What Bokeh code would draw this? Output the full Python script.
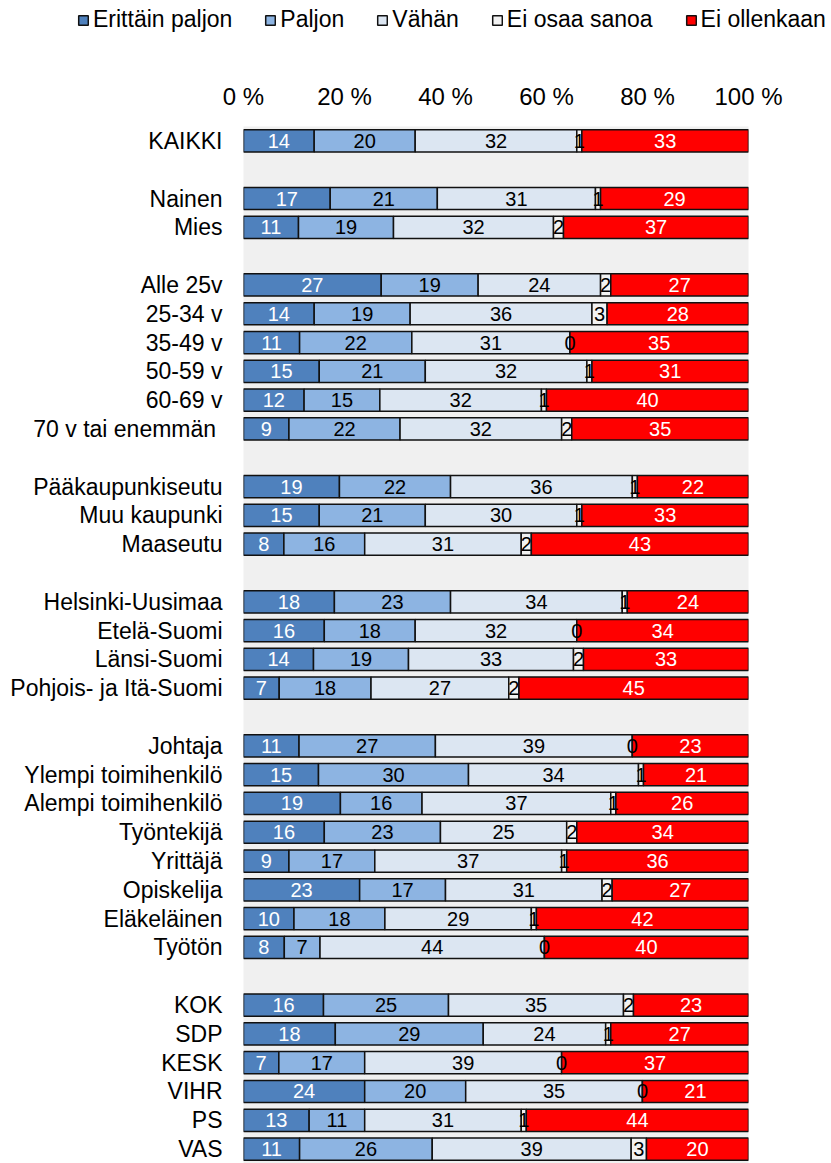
import numpy as np
from bokeh.plotting import figure
from bokeh.layouts import column
from bokeh.models import (ColumnDataSource, FixedTicker, Range1d, Legend,
                          LegendItem)
from bokeh.core.properties import value
from bokeh.embed import file_html
from bokeh.resources import INLINE

series = ["Erittäin paljon", "Paljon", "Vähän", "Ei osaa sanoa", "Ei ollenkaan"]
colors = ["#4F81BD", "#8DB4E2", "#DCE6F2", "#F2F2F2", "#FF0000"]
label_colors = ["#FFFFFF", "#000000", "#000000", "#000000", "#FFFFFF"]

groups = [
    ["KAIKKI"],
    ["Nainen", "Mies"],
    ["Alle 25v", "25-34 v", "35-49 v", "50-59 v", "60-69 v", "70 v  tai enemmän"],
    ["Pääkaupunkiseutu", "Muu kaupunki", "Maaseutu"],
    ["Helsinki-Uusimaa", "Etelä-Suomi", "Länsi-Suomi", "Pohjois- ja Itä-Suomi"],
    ["Johtaja", "Ylempi toimihenkilö", "Alempi toimihenkilö", "Työntekijä",
     "Yrittäjä", "Opiskelija", "Eläkeläinen", "Työtön"],
    ["KOK", "SDP", "KESK", "VIHR", "PS", "VAS"],
]

erittain_paljon = [14, 17, 11, 27, 14, 11, 15, 12, 9, 19, 15, 8, 18, 16, 14, 7,
                   11, 15, 19, 16, 9, 23, 10, 8, 16, 18, 7, 24, 13, 11]
paljon = [20, 21, 19, 19, 19, 22, 21, 15, 22, 22, 21, 16, 23, 18, 19, 18,
          27, 30, 16, 23, 17, 17, 18, 7, 25, 29, 17, 20, 11, 26]
vahan = [32, 31, 32, 24, 36, 31, 32, 32, 32, 36, 30, 31, 34, 32, 33, 27,
         39, 34, 37, 25, 37, 31, 29, 44, 35, 24, 39, 35, 31, 39]
ei_osaa_sanoa = [1, 1, 2, 2, 3, 0, 1, 1, 2, 1, 1, 2, 1, 0, 2, 2,
                 0, 1, 1, 2, 1, 2, 1, 0, 2, 1, 0, 0, 1, 3]
ei_ollenkaan = [33, 29, 37, 27, 28, 35, 31, 40, 35, 22, 33, 43, 24, 34, 33, 45,
                23, 21, 26, 34, 36, 27, 42, 40, 23, 27, 37, 21, 44, 20]

x_ticks = [0, 20, 40, 60, 80, 100]
x_tick_labels = ["0 %", "20 %", "40 %", "60 %", "80 %", "100 %"]

# row positions with a blank row between groups
categories, rows = [], []
r = 0
for g in groups:
    for c in g:
        categories.append(c)
        rows.append(r)
        r += 1
    r += 1
n_rows = r - 1

vals = np.array([erittain_paljon, paljon, vahan, ei_osaa_sanoa, ei_ollenkaan], dtype=float).T
norm = vals / vals.sum(axis=1, keepdims=True) * 100.0
right = np.cumsum(norm, axis=1)
left = right - norm

FONT = "Liberation Sans"
LEG_H = 40

# ---- main chart ----
p = figure(width=831, height=1163 - LEG_H, output_backend="svg", toolbar_location=None,
           x_range=Range1d(0, 100), y_range=Range1d(n_rows - 0.5, -0.5),
           x_axis_location="above", min_border_left=243, min_border_right=83,
           min_border_top=126 - LEG_H, min_border_bottom=0)
p.background_fill_color = "#F0F0F0"
p.border_fill_color = "#FFFFFF"
p.outline_line_color = None
p.xgrid.grid_line_color = None
p.ygrid.grid_line_color = None

# ---- legend strip (its frame spans the whole strip) ----
lp = figure(width=831, height=LEG_H, output_backend="svg", toolbar_location=None,
            x_range=Range1d(0, 100), y_range=Range1d(1000, 1001),
            x_axis_location=None, y_axis_location=None,
            min_border_left=0, min_border_right=0, min_border_top=0, min_border_bottom=0)
if "frame_align" in lp.properties():
    lp.frame_align = False
if "frame_align" in p.properties():
    p.frame_align = False
lp.outline_line_color = None
lp.xgrid.grid_line_color = None
lp.ygrid.grid_line_color = None
lp.background_fill_color = "#FFFFFF"
lp.border_fill_color = "#FFFFFF"

items = []
sources = []
for k in range(5):
    src = ColumnDataSource(dict(
        y=rows, left=left[:, k], right=right[:, k],
        lx=(left[:, k] + right[:, k]) / 2,
        label=[str(int(v)) for v in vals[:, k]],
    ))
    sources.append(src)
    p.hbar(y="y", left="left", right="right", height=0.77, source=src,
           fill_color=colors[k], line_color="#111111", line_width=1.5)
    # same data in the legend strip, hidden: it only feeds the legend glyphs
    lr = lp.hbar(y="y", left="left", right="right", height=0.77, source=src,
                 fill_color=colors[k], line_color="#111111", line_width=1.5,
                 visible=False)
    items.append(LegendItem(label=series[k], renderers=[lr]))

# value labels drawn on top of all bars
for k in range(5):
    p.text(x="lx", y="y", text="label", source=sources[k], text_align="center",
           text_baseline="middle", text_color=label_colors[k],
           text_font=value(FONT), text_font_size=value("20px"))

xa = p.xaxis[0]
xa.ticker = FixedTicker(ticks=x_ticks)
xa.major_label_overrides = {t: l for t, l in zip(x_ticks, x_tick_labels)}
xa.axis_line_color = None
xa.major_tick_line_color = None
xa.minor_tick_line_color = None
xa.major_tick_out = 0
xa.major_tick_in = 0
xa.major_label_text_font = FONT
xa.major_label_text_font_size = "24px"
xa.major_label_text_color = "#000000"
xa.major_label_standoff = 17

ya = p.yaxis[0]
ya.ticker = FixedTicker(ticks=rows)
ya.major_label_overrides = {rr: c for rr, c in zip(rows, categories)}
ya.axis_line_color = None
ya.major_tick_line_color = None
ya.minor_tick_line_color = None
ya.major_tick_out = 0
ya.major_tick_in = 0
ya.major_label_text_font = FONT
ya.major_label_text_font_size = "23px"
ya.major_label_text_color = "#000000"
ya.major_label_standoff = 21

lg = Legend(items=items, orientation="horizontal", location=(77, 7),
            background_fill_alpha=0, border_line_color=None, padding=0,
            margin=0, spacing=32, glyph_width=12, glyph_height=12,
            label_standoff=4, label_text_font=FONT, label_text_font_size="23px",
            label_text_color="#000000", inactive_fill_alpha=0)
lp.add_layout(lg, "center")

layout = column(lp, p, spacing=0)
open("out.html", "w").write(file_html(layout, INLINE))
